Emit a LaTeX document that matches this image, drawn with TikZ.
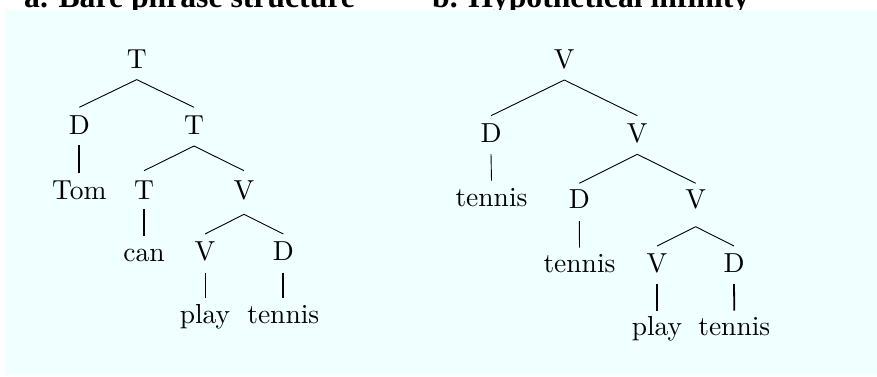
\documentclass[tikz,border=0pt]{standalone}
\usepackage{fontspec}
\newfontfamily\titlefont{Liberation Serif}[UprightFont={* Bold}]
\newfontfamily\treefont{lmroman10-regular}[Extension=.otf]
\definecolor{bgcyan}{RGB}{240,255,255}
\tikzset{
  tnode/.style={font=\treefont\fontsize{27.5}{33}\selectfont, anchor=base, inner sep=0pt},
  title/.style={font=\titlefont\fontsize{31.7}{38}\selectfont, anchor=base west, inner sep=0pt},
  diag/.style={line width=0.9pt},
  vthin/.style={line width=0.9pt},
  vthick/.style={line width=1.8pt},
}
\newcommand\branch[5]{\draw[#5] ([yshift=-#3pt]#1.base) -- ([yshift=#4pt]#2.base);}
\begin{document}
\begin{tikzpicture}[x=1pt,y=-1pt]
\useasboundingbox (0,0) rectangle (877,376);
% titles (partly cut off by the page and the background)
\node[title] (ta) at (24,7.5) {a. Bare phrase structure};
\node[title] (tb) at (432,7.5) {b. Hypothetical infinity};
\fill[bgcyan] (6,9.5) rectangle (877,375);
% ---- left tree
\node[tnode] (a1) at (136.7,68.3) {T};
\node[tnode] (a2) at (79.3,134) {D};
\node[tnode] (a3) at (194,134) {T};
\node[tnode] (a4) at (79.3,199.3) {Tom};
\node[tnode] (a5) at (144,199) {T};
\node[tnode] (a6) at (244,199) {V};
\node[tnode] (a7) at (144,261) {can};
\node[tnode] (a8) at (205,260.5) {V};
\node[tnode] (a9) at (283.3,260.5) {D};
\node[tnode] (a10) at (205,323.3) {play};
\node[tnode] (a11) at (283.3,323.3) {tennis};
\branch{a1}{a2}{11.3}{26.7}{diag}
\branch{a1}{a3}{11.3}{26.7}{diag}
\branch{a2}{a4}{11}{26.6}{vthick}
\branch{a3}{a5}{12}{28.3}{diag}
\branch{a3}{a6}{12}{28.3}{diag}
\branch{a5}{a7}{10}{25.3}{vthick}
\branch{a6}{a8}{15.3}{26.5}{diag}
\branch{a6}{a9}{15.3}{26.5}{diag}
\branch{a8}{a10}{12}{25}{vthin}
\branch{a9}{a11}{12}{25}{vthick}
% ---- right tree
\node[tnode] (b1) at (564.3,68.3) {V};
\node[tnode] (b2) at (491,142.3) {D};
\node[tnode] (b3) at (637.3,142.3) {V};
\node[tnode] (b4) at (491.5,206) {tennis};
\node[tnode] (b5) at (579.3,208.3) {D};
\node[tnode] (b6) at (695.7,208.3) {V};
\node[tnode] (b7) at (579.5,272.3) {tennis};
\node[tnode] (b8) at (657,272.3) {V};
\node[tnode] (b9) at (734,272.3) {D};
\node[tnode] (b10) at (657,335) {play};
\node[tnode] (b11) at (734.3,335) {tennis};
\branch{b1}{b2}{11.7}{26.6}{diag}
\branch{b1}{b3}{11.7}{26.6}{diag}
\branch{b2}{b4}{11.7}{25.3}{vthin}
\branch{b3}{b5}{12}{25}{diag}
\branch{b3}{b6}{12}{25}{diag}
\branch{b5}{b7}{12.7}{24.6}{vthin}
\branch{b6}{b8}{18.4}{26.3}{diag}
\branch{b6}{b9}{18.4}{26.3}{diag}
\branch{b8}{b10}{11.7}{24.3}{vthick}
\branch{b9}{b11}{11.7}{24.3}{vthick}
\end{tikzpicture}
\end{document}
